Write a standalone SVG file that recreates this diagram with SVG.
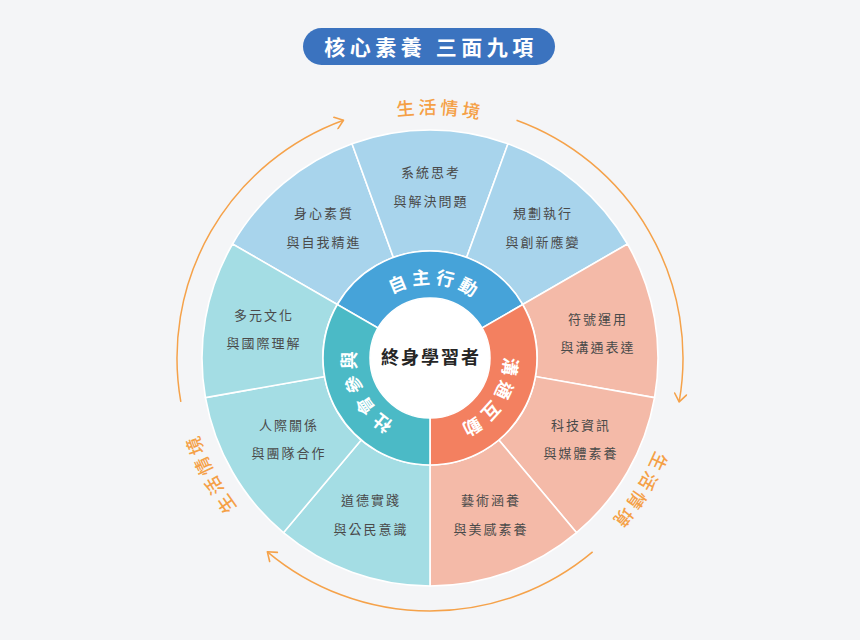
<svg xmlns="http://www.w3.org/2000/svg" xmlns:xlink="http://www.w3.org/1999/xlink" width="860" height="640" viewBox="0 0 860 640">
  <style>
    .cjk { font-family: "Noto Sans CJK TC", "Noto Sans CJK SC", "Noto Sans", sans-serif; }
    .item { font-size: 13px; letter-spacing: 2px; fill: #4a4a4a; text-anchor: middle; }
    .ring { font-size: 18px; font-weight: bold; letter-spacing: 4.5px; fill: #ffffff; text-anchor: middle; }
    .ctx { font-size: 18px; font-weight: 500; letter-spacing: 3.5px; fill: #f5a046; text-anchor: middle; }
    .seg { stroke: #ffffff; stroke-width: 1.6; }
    .blueO { fill: #a8d4ec; }
    .orangeO { fill: #f4baa8; }
    .tealO { fill: #a4dde4; }
    .arc { fill: none; stroke: #f5a24a; stroke-width: 1.5; }
  </style>
  <defs>
    <marker id="arr" viewBox="-10 -7 12 14" markerWidth="12" markerHeight="14" refX="0" refY="0" orient="auto" markerUnits="userSpaceOnUse">
      <path d="M-8,-6 L0,0 L-8,6" fill="none" stroke="#f5a24a" stroke-width="1.6" stroke-linecap="round" stroke-linejoin="round"/>
    </marker>
    <path id="midArc" d="M356,358 A74,74 0 0 1 504,358" fill="none"/>
    <path id="outArc" d="M186,358 A244,244 0 0 1 674,358" fill="none"/>
  </defs>

  <rect x="0" y="0" width="860" height="640" fill="#f4f5f7"/>

  <g id="title">
    <rect x="303" y="28" width="252" height="37" rx="18.5" fill="#3b73bf"/>
    <text class="cjk" x="431" y="55" font-size="21" font-weight="bold" letter-spacing="4.5" fill="#ffffff" text-anchor="middle">核心素養 三面九項</text>
  </g>

  <g id="connectors">
    <path class="arc" d="M180.84,401.93 A253,253 0 0 1 343.47,120.26" marker-end="url(#arr)"/>
    <path class="arc" d="M180.84,401.93 A253,253 0 0 1 343.47,120.26" marker-end="url(#arr)" transform="rotate(120 430 358)"/>
    <path class="arc" d="M180.84,401.93 A253,253 0 0 1 343.47,120.26" marker-end="url(#arr)" transform="rotate(240 430 358)"/>
  </g>

  <g id="context-labels">
    <text class="cjk ctx"><textPath href="#outArc" startOffset="393">生活情境</textPath></text>
    <g transform="rotate(120 430 358)"><text class="cjk ctx"><textPath href="#outArc" startOffset="393">生活情境</textPath></text></g>
    <g transform="rotate(240 430 358)"><text class="cjk ctx"><textPath href="#outArc" startOffset="393">生活情境</textPath></text></g>
  </g>

  <!-- outer ring items -->
  <g id="item-body-mind">
    <path class="seg blueO" d="M232.55,244 A228,228 0 0 1 352.02,143.75 L393.4,257.45 A107,107 0 0 0 337.33,304.5 Z"/>
    <text class="cjk item" x="324" y="218">身心素質</text>
    <text class="cjk item" x="324" y="247">與自我精進</text>
  </g>
  <g id="item-systems">
    <path class="seg blueO" d="M352.02,143.75 A228,228 0 0 1 507.98,143.75 L466.6,257.45 A107,107 0 0 0 393.4,257.45 Z"/>
    <text class="cjk item" x="431" y="177">系統思考</text>
    <text class="cjk item" x="431" y="206">與解決問題</text>
  </g>
  <g id="item-planning">
    <path class="seg blueO" d="M507.98,143.75 A228,228 0 0 1 627.45,244 L522.67,304.5 A107,107 0 0 0 466.6,257.45 Z"/>
    <text class="cjk item" x="543" y="218">規劃執行</text>
    <text class="cjk item" x="543" y="247">與創新應變</text>
  </g>
  <g id="item-symbols">
    <path class="seg orangeO" d="M627.45,244 A228,228 0 0 1 654.54,397.59 L535.37,376.58 A107,107 0 0 0 522.67,304.5 Z"/>
    <text class="cjk item" x="598" y="324">符號運用</text>
    <text class="cjk item" x="598" y="352">與溝通表達</text>
  </g>
  <g id="item-tech">
    <path class="seg orangeO" d="M654.54,397.59 A228,228 0 0 1 576.56,532.66 L498.78,439.97 A107,107 0 0 0 535.37,376.58 Z"/>
    <text class="cjk item" x="581" y="430">科技資訊</text>
    <text class="cjk item" x="581" y="458">與媒體素養</text>
  </g>
  <g id="item-arts">
    <path class="seg orangeO" d="M576.56,532.66 A228,228 0 0 1 430,586 L430,465 A107,107 0 0 0 498.78,439.97 Z"/>
    <text class="cjk item" x="491" y="505">藝術涵養</text>
    <text class="cjk item" x="491" y="534">與美感素養</text>
  </g>
  <g id="item-ethics">
    <path class="seg tealO" d="M430,586 A228,228 0 0 1 283.44,532.66 L361.22,439.97 A107,107 0 0 0 430,465 Z"/>
    <text class="cjk item" x="371" y="505">道德實踐</text>
    <text class="cjk item" x="371" y="534">與公民意識</text>
  </g>
  <g id="item-relations">
    <path class="seg tealO" d="M283.44,532.66 A228,228 0 0 1 205.46,397.59 L324.63,376.58 A107,107 0 0 0 361.22,439.97 Z"/>
    <text class="cjk item" x="289" y="430">人際關係</text>
    <text class="cjk item" x="289" y="458">與團隊合作</text>
  </g>
  <g id="item-culture">
    <path class="seg tealO" d="M205.46,397.59 A228,228 0 0 1 232.55,244 L337.33,304.5 A107,107 0 0 0 324.63,376.58 Z"/>
    <text class="cjk item" x="264" y="320">多元文化</text>
    <text class="cjk item" x="264" y="348">與國際理解</text>
  </g>

  <!-- middle ring -->
  <g id="dim-autonomy">
    <path class="seg" fill="#46a3d9" d="M430,358 L337.33,304.5 A107,107 0 0 1 522.67,304.5 Z"/>
    <text class="cjk ring"><textPath href="#midArc" startOffset="121">自主行動</textPath></text>
  </g>
  <g id="dim-communication">
    <path class="seg" fill="#f38060" d="M430,358 L522.67,304.5 A107,107 0 0 1 430,465 Z"/>
    <g transform="rotate(120 430 358)"><text class="cjk ring"><textPath href="#midArc" startOffset="121">溝通互動</textPath></text></g>
  </g>
  <g id="dim-social">
    <path class="seg" fill="#4bbac6" d="M430,358 L430,465 A107,107 0 0 1 337.33,304.5 Z"/>
    <g transform="rotate(240 430 358)"><text class="cjk ring"><textPath href="#midArc" startOffset="121">社會參與</textPath></text></g>
  </g>

  <g id="center">
    <circle cx="430" cy="358" r="60" fill="#ffffff" stroke="#ffffff" stroke-width="1.5"/>
    <text class="cjk" x="431" y="364" font-size="18" font-weight="bold" letter-spacing="2" fill="#262626" text-anchor="middle">終身學習者</text>
  </g>
</svg>
